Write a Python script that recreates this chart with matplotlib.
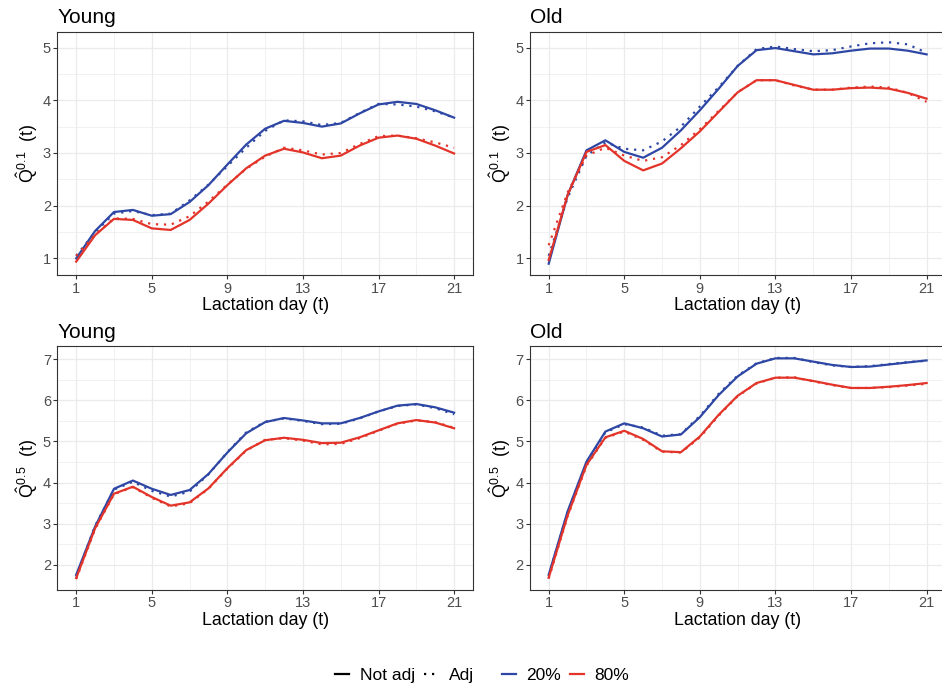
import numpy as np
import matplotlib
matplotlib.use("Agg")
import matplotlib.pyplot as plt
from matplotlib.lines import Line2D

plt.rcParams['font.family'] = ['Liberation Sans', 'DejaVu Sans']
plt.rcParams['mathtext.fontset'] = 'custom'
plt.rcParams['mathtext.rm'] = 'Liberation Sans'
plt.rcParams['mathtext.it'] = 'Liberation Sans'
plt.rcParams['mathtext.bf'] = 'Liberation Sans:bold'

days = np.arange(1, 22)

# Q0.1, young
young_q01_20_notadj = [1.00, 1.52, 1.88, 1.92, 1.81, 1.84, 2.07, 2.39, 2.78, 3.16, 3.46,
                       3.61, 3.57, 3.50, 3.56, 3.75, 3.92, 3.97, 3.93, 3.81, 3.67]
young_q01_20_adj = [1.05, 1.50, 1.85, 1.90, 1.82, 1.85, 2.10, 2.40, 2.75, 3.10, 3.42,
                    3.62, 3.60, 3.53, 3.57, 3.76, 3.93, 3.92, 3.88, 3.79, 3.67]
young_q01_80_notadj = [0.94, 1.44, 1.75, 1.73, 1.57, 1.54, 1.73, 2.04, 2.39, 2.71, 2.95,
                       3.08, 3.01, 2.90, 2.95, 3.14, 3.29, 3.33, 3.27, 3.14, 2.99]
young_q01_80_adj = [1.05, 1.45, 1.76, 1.75, 1.65, 1.64, 1.80, 2.08, 2.40, 2.70, 2.93,
                    3.10, 3.05, 2.97, 3.00, 3.17, 3.32, 3.33, 3.28, 3.20, 3.10]

# Q0.1, old
old_q01_20_notadj = [0.90, 2.20, 3.05, 3.24, 3.02, 2.91, 3.10, 3.43, 3.81, 4.22, 4.65,
                     4.95, 4.99, 4.93, 4.87, 4.89, 4.94, 4.98, 4.98, 4.94, 4.87]
old_q01_20_adj = [1.05, 2.15, 2.95, 3.20, 3.08, 3.05, 3.22, 3.50, 3.88, 4.25, 4.65,
                  4.97, 5.02, 4.97, 4.93, 4.95, 5.02, 5.08, 5.10, 5.06, 4.90]
old_q01_80_notadj = [0.97, 2.20, 3.02, 3.15, 2.85, 2.67, 2.80, 3.09, 3.41, 3.78, 4.15,
                     4.38, 4.38, 4.29, 4.20, 4.20, 4.23, 4.24, 4.22, 4.14, 4.03]
old_q01_80_adj = [1.25, 2.25, 2.95, 3.10, 2.95, 2.85, 2.92, 3.15, 3.45, 3.80, 4.15,
                  4.38, 4.38, 4.28, 4.20, 4.20, 4.24, 4.26, 4.24, 4.14, 3.97]

# Q0.5, young
young_q05_20_notadj = [1.76, 2.93, 3.85, 4.05, 3.85, 3.70, 3.82, 4.21, 4.73, 5.20, 5.47,
                       5.57, 5.51, 5.44, 5.44, 5.57, 5.73, 5.87, 5.91, 5.83, 5.70]
young_q05_20_adj = [1.72, 2.95, 3.83, 4.02, 3.80, 3.66, 3.78, 4.20, 4.74, 5.22, 5.48,
                    5.56, 5.50, 5.42, 5.43, 5.56, 5.73, 5.86, 5.90, 5.81, 5.66]
young_q05_80_notadj = [1.68, 2.89, 3.73, 3.90, 3.65, 3.44, 3.52, 3.86, 4.35, 4.79, 5.03,
                       5.09, 5.04, 4.96, 4.97, 5.10, 5.27, 5.44, 5.52, 5.46, 5.32]
young_q05_80_adj = [1.66, 2.87, 3.72, 3.89, 3.63, 3.42, 3.50, 3.85, 4.34, 4.78, 5.04,
                    5.08, 5.02, 4.93, 4.94, 5.08, 5.26, 5.43, 5.51, 5.47, 5.33]

# Q0.5, old
old_q05_20_notadj = [1.76, 3.30, 4.51, 5.24, 5.44, 5.32, 5.12, 5.17, 5.59, 6.13, 6.58,
                     6.89, 7.02, 7.02, 6.94, 6.86, 6.81, 6.82, 6.87, 6.92, 6.97]
old_q05_20_adj = [1.74, 3.28, 4.48, 5.22, 5.42, 5.34, 5.14, 5.18, 5.62, 6.16, 6.60,
                  6.90, 7.03, 7.03, 6.93, 6.85, 6.81, 6.83, 6.88, 6.93, 6.96]
old_q05_80_notadj = [1.69, 3.20, 4.43, 5.10, 5.26, 5.06, 4.76, 4.74, 5.12, 5.65, 6.11,
                     6.42, 6.55, 6.55, 6.47, 6.38, 6.30, 6.30, 6.33, 6.37, 6.42]
old_q05_80_adj = [1.67, 3.18, 4.41, 5.09, 5.24, 5.04, 4.75, 4.73, 5.10, 5.63, 6.10,
                  6.41, 6.55, 6.56, 6.46, 6.37, 6.30, 6.30, 6.32, 6.36, 6.40]

panels = [
    ("Young", "0.1", young_q01_20_notadj, young_q01_20_adj, young_q01_80_notadj, young_q01_80_adj),
    ("Old", "0.1", old_q01_20_notadj, old_q01_20_adj, old_q01_80_notadj, old_q01_80_adj),
    ("Young", "0.5", young_q05_20_notadj, young_q05_20_adj, young_q05_80_notadj, young_q05_80_adj),
    ("Old", "0.5", old_q05_20_notadj, old_q05_20_adj, old_q05_80_notadj, old_q05_80_adj),
]

blue = '#2E47A5'
red = '#E3342A'
dotted = (0, (1, 2.6))

W, H = 942, 687
fig = plt.figure(figsize=(W / 100, H / 100), dpi=100)

# panel boxes in pixels: left, top, right, bottom
boxes = [(57.3, 31.7, 473.0, 275.3), (529.8, 31.7, 945.5, 275.3),
         (57.3, 346.0, 473.0, 590.0), (529.8, 346.0, 945.5, 590.0)]

for i, (title, q, b_na, b_a, r_na, r_a) in enumerate(panels):
    l, t, r, b = boxes[i]
    ax = fig.add_axes([l / W, 1 - b / H, (r - l) / W, (b - t) / H])
    ax.plot(days, b_na, color=blue, lw=1.6, zorder=3)
    ax.plot(days, b_a, color=blue, lw=1.6, ls=dotted, zorder=3)
    ax.plot(days, r_na, color=red, lw=1.6, zorder=3)
    ax.plot(days, r_a, color=red, lw=1.6, ls=dotted, zorder=3)

    ax.set_xlim(0, 22)
    ax.set_xticks([1, 5, 9, 13, 17, 21])
    ax.set_xticks([3, 7, 11, 15, 19], minor=True)
    if q == "0.1":
        ax.set_ylim(0.68, 5.30)
        ax.set_yticks([1, 2, 3, 4, 5])
        ax.set_yticks([1.5, 2.5, 3.5, 4.5], minor=True)
    else:
        ax.set_ylim(1.39, 7.32)
        ax.set_yticks([2, 3, 4, 5, 6, 7])
        ax.set_yticks([2.5, 3.5, 4.5, 5.5, 6.5], minor=True)

    ax.grid(True, which='major', color='#EBEBEB', lw=0.9, zorder=0)
    ax.grid(True, which='minor', color='#EBEBEB', lw=0.5, zorder=0)
    ax.set_axisbelow(True)
    for s in ax.spines.values():
        s.set_color('#333333')
        s.set_linewidth(0.8)
    ax.tick_params(which='major', length=3, width=0.8, color='#333333',
                   labelsize=10.5, labelcolor='#4D4D4D', pad=1.5)
    ax.tick_params(which='minor', length=0)

    ax.set_xlabel("Lactation day (t)", fontsize=12.8, labelpad=1)
    ax.set_ylabel(r'$\hat{Q}^{%s}\ \ (t)$' % q, fontsize=12.8, labelpad=2)
    ax.set_title(title, loc='left', fontsize=15, pad=6)

h1 = [Line2D([], [], color='black', lw=1.6), Line2D([], [], color='black', lw=1.6, ls=dotted)]
h2 = [Line2D([], [], color=blue, lw=1.6), Line2D([], [], color=red, lw=1.6)]
common = dict(ncol=2, frameon=False, fontsize=12.5, handlelength=0.8,
              handletextpad=0.6, columnspacing=0.55, loc='center')
fig.legend(h1, ["Not adj", "Adj"], bbox_to_anchor=(404.5 / W, 1 - 675 / H), **common)
fig.legend(h2, ["20%", "80%"], bbox_to_anchor=(565.5 / W, 1 - 675 / H), **common)

fig.savefig("out.png", dpi=100)
